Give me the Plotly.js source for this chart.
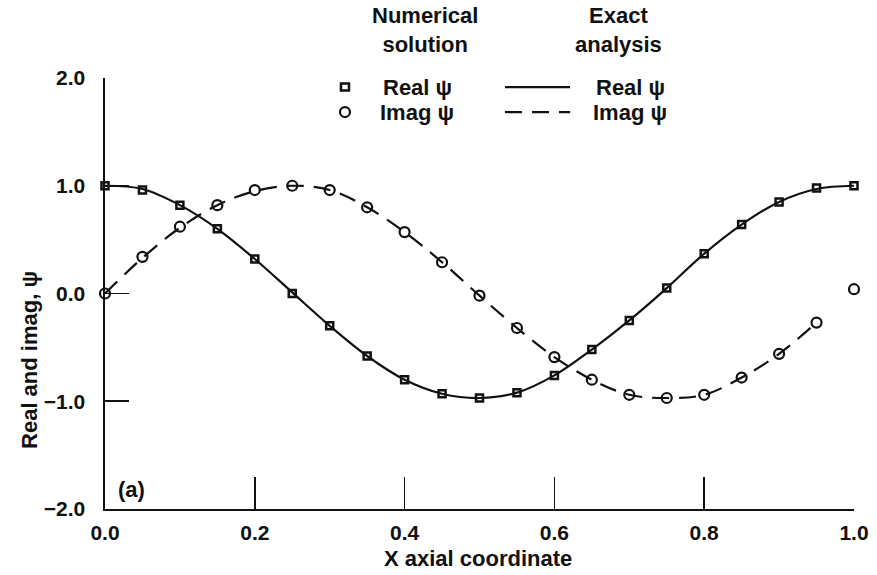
<!DOCTYPE html>
<html>
<head>
<meta charset="utf-8">
<script src="https://cdn.plot.ly/plotly-3.0.1.min.js"></script>
<style>html,body{margin:0;padding:0;background:#fff;}#chart{width:877px;height:575px;}</style>
</head>
<body>
<div id="chart"></div>
<script>
// Sample positions along the axis
const xNum = [0.0,0.05,0.10,0.15,0.20,0.25,0.30,0.35,0.40,0.45,0.50,0.55,0.60,0.65,0.70,0.75,0.80,0.85,0.90,0.95,1.0];
// Numerical solution (markers)
const numReal = [1.0,0.96,0.82,0.60,0.32,0.0,-0.30,-0.58,-0.80,-0.93,-0.97,-0.92,-0.76,-0.52,-0.25,0.05,0.37,0.64,0.85,0.98,1.0];
const numImag = [0.0,0.34,0.62,0.82,0.96,1.0,0.96,0.80,0.57,0.29,-0.02,-0.32,-0.59,-0.80,-0.94,-0.97,-0.94,-0.78,-0.56,-0.27,0.04];
// Exact analysis (lines)
const xExactReal = [0.0,0.05,0.10,0.15,0.20,0.25,0.30,0.35,0.40,0.45,0.50,0.55,0.60,0.65,0.70,0.75,0.80,0.85,0.90,0.95,1.0];
const exactReal = [1.0,0.97,0.82,0.60,0.32,0.01,-0.30,-0.58,-0.80,-0.93,-0.97,-0.92,-0.76,-0.52,-0.25,0.05,0.37,0.64,0.85,0.97,1.0];
const xExactImag = [0.0,0.05,0.10,0.15,0.20,0.25,0.30,0.35,0.40,0.45,0.50,0.55,0.60,0.65,0.70,0.75,0.80,0.85,0.90,0.95];
const exactImag = [0.0,0.33,0.61,0.82,0.95,1.0,0.96,0.80,0.57,0.29,-0.02,-0.32,-0.59,-0.80,-0.94,-0.97,-0.94,-0.78,-0.56,-0.27];
// Tick labels
const xTicks = [0,0.2,0.4,0.6,0.8,1.0];
const xTickText = ["0.0","0.2","0.4","0.6","0.8","1.0"];
const yTicks = [-2,-1,0,1,2];
const yTickText = ["\u22122.0","\u22121.0","0.0","1.0","2.0"];

const FONT = "Liberation Sans, Arial, Helvetica, sans-serif";
const INK = "#111";
const F = {family: FONT, size: 22, color: INK, weight: "bold"};
const FT = {family: FONT, size: 21, color: INK, weight: "bold"};

const traces = [
  {x: xExactReal, y: exactReal, mode: "lines", line: {color: INK, width: 2.2, shape: "spline"}, hoverinfo: "skip"},
  {x: xExactImag, y: exactImag, mode: "lines", line: {color: INK, width: 2.2, shape: "spline", dash: "17px,10px"}, hoverinfo: "skip"},
  {x: xNum, y: numReal, mode: "markers", cliponaxis: false,
   marker: {symbol: "square-open", size: 7, color: INK, line: {color: INK, width: 2.5}}},
  {x: xNum, y: numImag, mode: "markers", cliponaxis: false,
   marker: {symbol: "circle-open", size: 10, color: INK, line: {color: INK, width: 2.2}}}
];

function note(text, x, y, extra) {
  return Object.assign({text: text, xref: "paper", yref: "paper", x: x, y: y, showarrow: false,
    xanchor: "center", yanchor: "middle", font: F}, extra || {});
}

const layout = {
  width: 877, height: 575,
  margin: {l: 105, r: 23, t: 78, b: 66},
  paper_bgcolor: "#fff", plot_bgcolor: "#fff",
  showlegend: false,
  font: F,
  xaxis: {
    range: [0, 1], tickvals: xTicks, ticktext: xTickText,
    ticks: "inside", ticklen: 32, tickwidth: 1.6, tickcolor: INK,
    showline: true, linecolor: INK, linewidth: 1.6, mirror: false,
    showgrid: false, zeroline: false, ticklabelstandoff: 4,
    tickfont: FT
  },
  yaxis: {
    range: [-2, 2], tickvals: yTicks, ticktext: yTickText,
    ticks: "inside", ticklen: 24, tickwidth: 1.6, tickcolor: INK,
    showline: true, linecolor: INK, linewidth: 1.6, mirror: false,
    showgrid: false, zeroline: false, ticklabelstandoff: 14,
    tickfont: FT
  },
  annotations: [
    note("X axial coordinate", 0.498, -0.114),
    note("Real and imag, \u03c8", -0.100, 0.346, {textangle: -90}),
    note("(a)", 0.035, 0.046),
    note("Numerical<br>solution", 0.427, 1.111),
    note("Exact<br>analysis", 0.686, 1.111),
    note("Real \u03c8", 0.417, 0.979),
    note("Imag \u03c8", 0.417, 0.921),
    note("Real \u03c8", 0.701, 0.979),
    note("Imag \u03c8", 0.701, 0.921)
  ],
  shapes: [
    {type: "rect", xref: "paper", yref: "paper", xsizemode: "pixel", ysizemode: "pixel",
     xanchor: 0.3204, yanchor: 0.979, x0: -4, x1: 4, y0: -3.5, y1: 3.5, line: {color: INK, width: 2.5}},
    {type: "circle", xref: "paper", yref: "paper", xsizemode: "pixel", ysizemode: "pixel",
     xanchor: 0.3204, yanchor: 0.921, x0: -5, x1: 5, y0: -5, y1: 5, line: {color: INK, width: 2.2}},
    {type: "line", xref: "paper", yref: "paper", x0: 0.534, x1: 0.621, y0: 0.979, y1: 0.979, line: {color: INK, width: 2.2}},
    {type: "line", xref: "paper", yref: "paper", x0: 0.534, x1: 0.621, y0: 0.921, y1: 0.921, line: {color: INK, width: 2.2, dash: "17px,10px"}}
  ]
};

Plotly.newPlot("chart", traces, layout, {staticPlot: true, displayModeBar: false});
</script>
</body>
</html>
